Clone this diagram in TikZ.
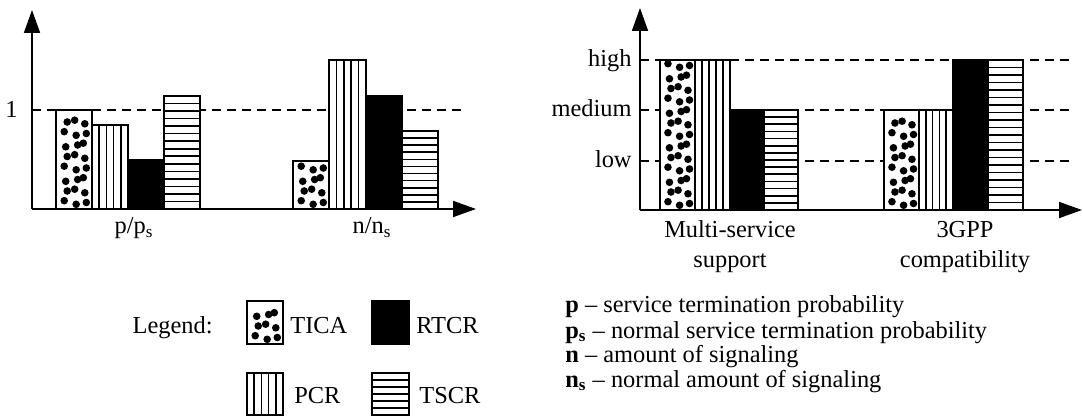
\documentclass[tikz,border=0pt]{standalone}
\usepackage{fontspec}
\setmainfont{Liberation Serif}
\usetikzlibrary{arrows.meta}

\tikzset{
  barline/.style = {draw, line width = 1pt},
  hatch/.style = {line width = 0.8pt},
  axis/.style = {line width = 0.9pt, -{Triangle[length = 11.5pt, width = 8pt]}},
  level/.style = {line width = 0.6pt, dash pattern = on 4.5pt off 3pt},
  lbl/.style = {inner sep = 0pt},
}

% Bar with dots: x1, top, x2, bottom.
\newcommand{\ticabar}[4]{%
  \fill[white] (#1,#2) rectangle (#3,#4);
  \pgfmathtruncatemacro{\nrows}{(#4-#2-10)/11.5}%
  \begin{scope}
    \clip (#1,#2) rectangle (#3,#4);
    \foreach \rw in {0,...,\nrows} {
      \foreach \cl/\fx in {0/0.27, 1/0.56, 2/0.8} {
        \pgfmathsetmacro{\jx}{mod(\rw*2+\cl,3)*1.5-1.5}
        \pgfmathsetmacro{\jy}{mod(\rw+\cl*2,3)*1.8-1.8}
        \fill ({#1+\fx*(#3-#1)+\jx}, {#4-6.5-\rw*11.5+\jy}) circle (1.9pt);
      }
    }
  \end{scope}
  \draw[barline] (#1,#2) rectangle (#3,#4);
}

% Bar with vertical stripes.
\newcommand{\pcrbar}[4]{%
  \fill[white] (#1,#2) rectangle (#3,#4);
  \foreach \k in {1,...,4}
    \draw[hatch] ({#1+\k*(#3-#1)/5}, #2) -- ({#1+\k*(#3-#1)/5}, #4);
  \draw[barline] (#1,#2) rectangle (#3,#4);
}

% Solid black bar.
\newcommand{\rtcrbar}[4]{%
  \draw[barline, fill = black] (#1,#2) rectangle (#3,#4);
}

% Bar with horizontal stripes.
\newcommand{\tscrbar}[4]{%
  \fill[white] (#1,#2) rectangle (#3,#4);
  \pgfmathtruncatemacro{\nlines}{(#4-#2)/7.4-0.5}%
  \foreach \k in {1,...,\nlines}
    \draw[hatch] (#1, {#4-\k*(#4-#2)/(\nlines+1)}) -- (#3, {#4-\k*(#4-#2)/(\nlines+1)});
  \draw[barline] (#1,#2) rectangle (#3,#4);
}

\begin{document}
\begin{tikzpicture}[x = 0.5pt, y = -0.5pt, font = \fontsize{12.2}{13}\selectfont]

        \useasboundingbox (0,0) rectangle (1083,417);

        % Positions for the axes of the left chart.
        \coordinate (leftO) at (32, 209);
        \coordinate (leftY) at (32, 10);
        \coordinate (leftX) at (476, 209);
        \coordinate (oneA) at (32, 110);
        \coordinate (oneB) at (463, 110);

        % Positions for the axes of the right chart.
        \coordinate (rightO) at (640, 210);
        \coordinate (rightY) at (640, 8);
        \coordinate (rightX) at (1082, 210);

        % Reference level in the left chart.
        \draw [level] (oneA) to (oneB);
        \node (lblOne) [lbl, anchor = base east] at (18, 118) {1};

        % Levels in the right chart.
        \foreach \lv/\yy in {high/60, medium/110, low/161} {
          \coordinate (\lv A) at (640, \yy);
          \coordinate (\lv B) at (1075, \yy);
          \draw [level] (\lv A) to (\lv B);
          \node (lbl\lv) [lbl, anchor = base east] at (632, \yy+7) {\lv};
        }

        % Bars for p/ps.
        \ticabar{56}{110}{92}{209}
        \pcrbar{92}{125}{128}{209}
        \rtcrbar{128}{160}{164}{209}
        \tscrbar{164}{96}{200}{209}

        % Bars for n/ns.
        \ticabar{293}{161}{329}{209}
        \pcrbar{329}{60}{366}{209}
        \rtcrbar{366}{96}{402}{209}
        \tscrbar{402}{131}{438}{209}

        % Bars for multi-service support.
        \ticabar{660}{60}{695}{210}
        \pcrbar{695}{60}{730}{210}
        \rtcrbar{730}{110}{764}{210}
        \tscrbar{764}{110}{798}{210}

        % Bars for 3GPP compatibility.
        \ticabar{884}{110}{919}{210}
        \pcrbar{919}{110}{953}{210}
        \rtcrbar{953}{60}{988}{210}
        \tscrbar{988}{60}{1023}{210}

        % Draw the axes.
        \draw [axis] (leftO) to (leftY);
        \draw [axis] (leftO) to (leftX);
        \draw [axis] (rightO) to (rightY);
        \draw [axis] (rightO) to (rightX);

        % Label the groups (base is the last line).
        \node (lblPps) [lbl, anchor = base] at (134, 234) {p/p\textsubscript{s}};
        \node (lblNns) [lbl, anchor = base] at (372, 234) {n/n\textsubscript{s}};
        \node (lblMulti) [lbl, anchor = base, align = center] at (730, 268) {Multi-service\\[2pt]support};
        \node (lblGpp) [lbl, anchor = base, align = center] at (965, 268) {3GPP\\[2pt]compatibility};

        % Legend.
        \node (lblLegend) [lbl, anchor = base east] at (213, 333) {Legend:};
        \ticabar{247}{301}{283}{344}
        \rtcrbar{372}{301}{409}{344}
        \pcrbar{247}{373}{283}{415}
        \tscrbar{372}{373}{409}{415}
        \node (lblTica) [lbl, anchor = base west] at (290, 333) {TICA};
        \node (lblRtcr) [lbl, anchor = base west] at (416, 333) {RTCR};
        \node (lblPcr) [lbl, anchor = base west] at (294, 403) {PCR};
        \node (lblTscr) [lbl, anchor = base west] at (419, 403) {TSCR};

        % Meaning of the symbols.
        \node (defP) [lbl, anchor = base west] at (565, 313) {\textbf{p} – service termination probability};
        \node (defPs) [lbl, anchor = base west] at (565, 338) {\textbf{p}\textsubscript{\textbf{s}} – normal service termination probability};
        \node (defN) [lbl, anchor = base west] at (565, 362) {\textbf{n} – amount of signaling};
        \node (defNs) [lbl, anchor = base west] at (565, 387) {\textbf{n}\textsubscript{\textbf{s}} – normal amount of signaling};
    \end{tikzpicture}
\end{document}
